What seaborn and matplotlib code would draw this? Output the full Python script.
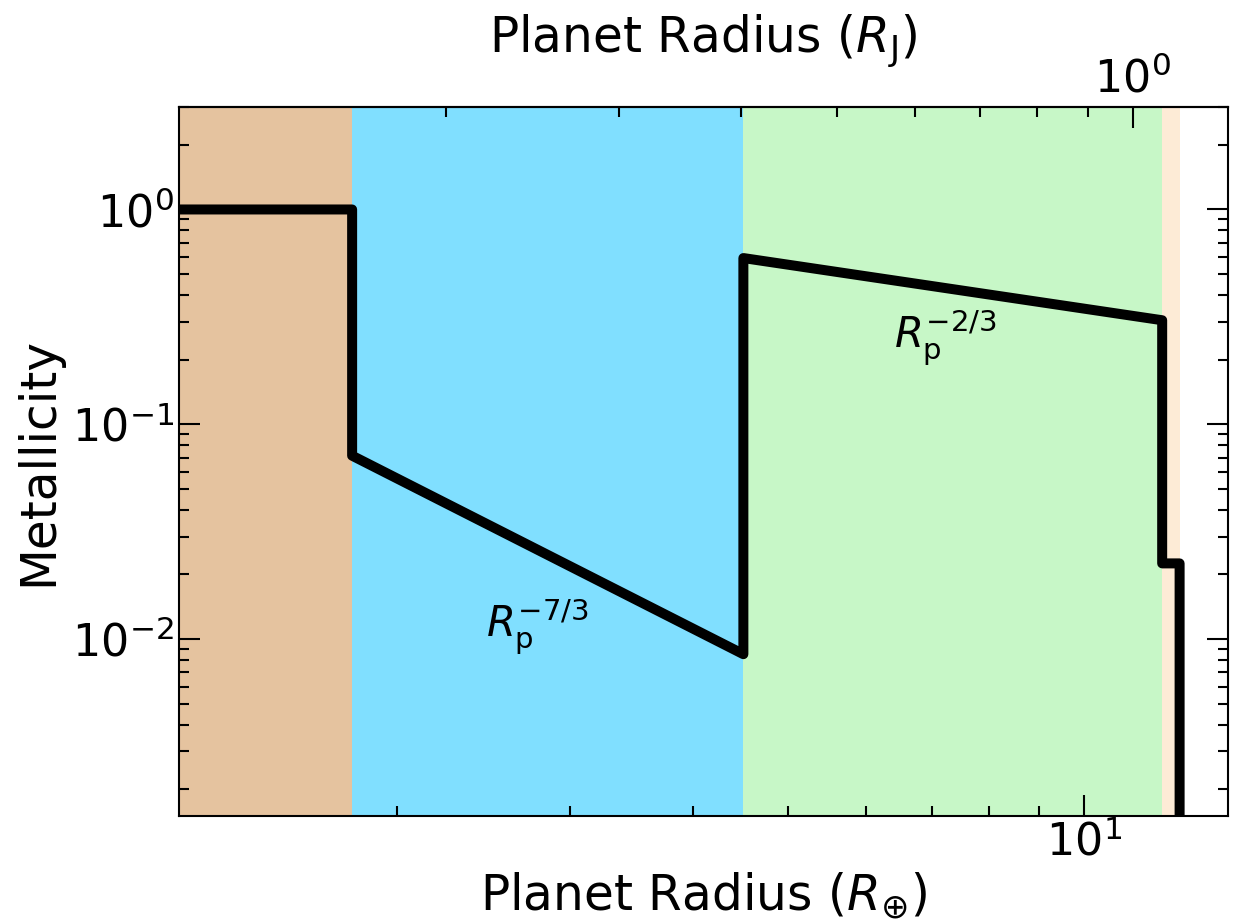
import matplotlib
matplotlib.use("Agg")
import matplotlib.pyplot as plt
import matplotlib.ticker as mticker
import numpy as np
import seaborn as sns

# ---- data ----
radius_earth = [1.0, 1.8, 1.8, 4.5, 4.5, 12.0, 12.0, 12.5, 12.5]
metallicity = [1.0, 1.0, 0.0714, 0.0085, 0.594, 0.305, 0.0225, 0.0225, 1e-4]

band_edges = [1.0, 1.8, 4.5, 12.0, 12.5]
band_colors = ["#E5C39F", "#80DFFF", "#C7F7C7", "#FDEBD6"]

earth_per_jupiter = 11.2

annot_texts = [r"$R_{\rm p}^{-7/3}$", r"$R_{\rm p}^{-2/3}$"]
annot_x = [2.46, 6.4]
annot_y = [0.0103, 0.228]

xlim = (1.2, 14.0)
ylim = (1.5e-3, 3.0)

sns.set_style("ticks")
plt.rcParams["font.family"] = ["DejaVu Sans"]
plt.rcParams["mathtext.fontset"] = "dejavusans"
plt.rcParams["text.color"] = "black"
plt.rcParams["axes.labelcolor"] = "black"
plt.rcParams["xtick.color"] = "black"
plt.rcParams["ytick.color"] = "black"
plt.rcParams["axes.edgecolor"] = "black"

fig = plt.figure(figsize=(12.33, 9.21), dpi=100)
ax = fig.add_axes([0.14517, 0.11401, 0.85077, 0.76982])

for lo, hi, c in zip(band_edges[:-1], band_edges[1:], band_colors):
    ax.axvspan(lo, hi, color=c, lw=0, zorder=0)

sns.lineplot(x=radius_earth, y=metallicity, sort=False, estimator=None,
             color="black", lw=7.2, ax=ax, zorder=3)
for line in ax.get_lines():
    line.set_solid_joinstyle("round")
    line.set_solid_capstyle("butt")

ax.set_xscale("log")
ax.set_yscale("log")
ax.set_xlim(*xlim)
ax.set_ylim(*ylim)

for t, x, y in zip(annot_texts, annot_x, annot_y):
    ax.text(x, y, t, fontsize=30, color="black", ha="left", va="baseline", zorder=4)

ax.set_xlabel(r"Planet Radius ($R_{\oplus}$)", fontsize=35, labelpad=4)
ax.set_ylabel("Metallicity", fontsize=35, labelpad=7)

ax.tick_params(axis="both", which="both", direction="in", labelsize=32,
               top=False, right=True, width=1.5, colors="black")
ax.tick_params(which="major", length=15)
ax.tick_params(which="minor", length=7.5)
ax.xaxis.set_minor_formatter(mticker.NullFormatter())
ax.yaxis.set_minor_locator(mticker.LogLocator(base=10, subs=np.arange(2, 10), numticks=20))

for s in ax.spines.values():
    s.set_linewidth(1.5)
    s.set_color("black")

sec = ax.secondary_xaxis("top", functions=(lambda x: x / earth_per_jupiter,
                                           lambda x: x * earth_per_jupiter))
sec.set_xlabel(r"Planet Radius ($R_{\rm J}$)", fontsize=35, labelpad=3)
sec.tick_params(axis="x", which="both", direction="in", labelsize=32, width=1.5,
                colors="black", pad=4)
sec.tick_params(which="major", length=15)
sec.tick_params(which="minor", length=7.5)
sec.xaxis.set_minor_formatter(mticker.NullFormatter())
sec.spines["top"].set_linewidth(1.5)
sec.spines["top"].set_color("black")

fig.savefig("out.png", dpi=100)
